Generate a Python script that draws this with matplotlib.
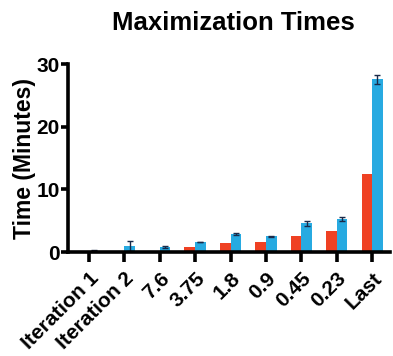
import numpy as np
import matplotlib
matplotlib.use("Agg")
import matplotlib.pyplot as plt
from matplotlib.transforms import ScaledTranslation

plt.rcParams['font.family'] = ['Liberation Sans', 'DejaVu Sans']

# data
labels = ["Iteration 1", "Iteration 2", "7.6", "3.75", "1.8", "0.9", "0.45", "0.23", "Last"]
red_vals = [0.1, 0.1, 0.1, 0.8, 1.5, 1.6, 2.6, 3.3, 12.4]
blue_vals = [0.2, 0.9, 0.8, 1.6, 2.9, 2.5, 4.6, 5.3, 27.6]
blue_err = [0.05, 0.8, 0.1, 0.05, 0.1, 0.1, 0.4, 0.3, 0.7]

red = "#EF4123"
blue = "#27AAE1"

fig = plt.figure(figsize=(3.93, 3.56), dpi=100)
ax = fig.add_axes([0.173, 0.292, 0.819, 0.528])

x = np.arange(len(labels))
w = 0.3
ax.bar(x - w / 2, red_vals, w, color=red)
ax.bar(x + w / 2, blue_vals, w, color=blue,
       yerr=blue_err, ecolor="#1a2a4a", capsize=2.5, error_kw=dict(elinewidth=1, capthick=1))

ax.set_xlim(-0.59, 8.5)
ax.set_ylim(0, 30)
ax.set_yticks([0, 10, 20, 30])
ax.set_xticks(x)
ax.set_xticklabels(labels, rotation=45, ha="right", rotation_mode="anchor",
                   fontsize=15, fontweight="bold")
# nudge the rotated labels a bit to the left
shift = ScaledTranslation(-4 / 72, 0, fig.dpi_scale_trans)
for t in ax.get_xticklabels():
    t.set_transform(t.get_transform() + shift)
for t in ax.get_yticklabels():
    t.set_fontsize(15)
    t.set_fontweight("bold")

ax.set_ylabel("Time (Minutes)", fontsize=16.5, fontweight="bold", labelpad=0)
fig.text(0.593, 0.935, "Maximization Times", ha="center", va="center",
         fontsize=18.5, fontweight="bold")

for s in ["top", "right"]:
    ax.spines[s].set_visible(False)
for s in ["left", "bottom"]:
    ax.spines[s].set_linewidth(2.6)
ax.tick_params(axis="x", length=7, width=2.6, pad=5)
ax.tick_params(axis="y", length=5, width=2.6, pad=1)

fig.savefig("out.png", dpi=100)
